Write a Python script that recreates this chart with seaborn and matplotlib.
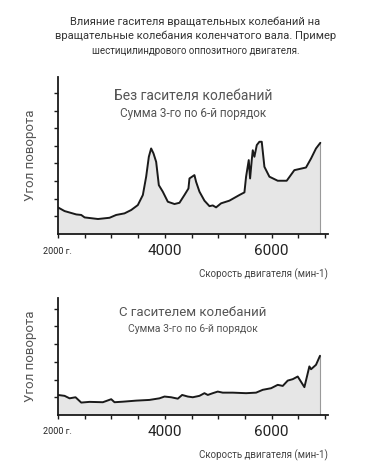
import matplotlib
matplotlib.use("Agg")
import matplotlib.pyplot as plt
import seaborn as sns
import pandas as pd

# Engine speed (rpm) and rotation angle, without damper
rpm_off = [2000, 2125, 2343, 2436, 2500, 2750, 2966, 3090, 3246, 3371, 3495, 3589,
           3651, 3701, 3744, 3788, 3838, 3888, 3962, 4056, 4181, 4274, 4367, 4442,
           4461, 4554, 4585, 4648, 4741, 4835, 4897, 4959, 5053, 5208, 5395, 5489,
           5520, 5570, 5595, 5626, 5645, 5676, 5720, 5769, 5813, 5863, 5956, 6112,
           6280, 6423, 6641, 6735, 6828, 6909]
angle_off = [1.51, 1.30, 1.11, 1.08, 0.94, 0.85, 0.92, 1.08, 1.17, 1.36, 1.64, 2.21,
             3.25, 4.38, 4.85, 4.57, 4.09, 2.77, 2.40, 1.83, 1.70, 1.77, 2.21, 2.58,
             3.15, 3.34, 2.96, 2.40, 1.89, 1.58, 1.62, 1.51, 1.74, 1.89, 2.21, 2.36,
             3.25, 4.19, 3.15, 4.19, 4.75, 4.38, 5.04, 5.23, 5.23, 3.81, 3.25, 3.02,
             3.02, 3.62, 3.77, 4.28, 4.85, 5.17]

# with damper
rpm_on = [2000, 2125, 2218, 2330, 2436, 2592, 2841, 2997, 3059, 3215, 3464, 3713,
          3900, 3994, 4118, 4243, 4324, 4430, 4523, 4648, 4741, 4804, 4897, 4990,
          5084, 5271, 5520, 5707, 5832, 5988, 6112, 6206, 6299, 6393, 6486, 6611,
          6704, 6735, 6828, 6903]
angle_on = [1.13, 1.08, 0.94, 1.00, 0.70, 0.74, 0.72, 0.89, 0.72, 0.75, 0.81, 0.85,
            0.94, 1.04, 1.00, 0.92, 1.13, 1.04, 1.00, 1.08, 1.23, 1.13, 1.23, 1.32,
            1.26, 1.26, 1.23, 1.26, 1.42, 1.51, 1.70, 1.64, 1.94, 2.02, 2.17, 1.57,
            2.74, 2.58, 2.83, 3.34]

x_ticks = [2000, 2500, 3000, 3500, 4000, 4500, 5000, 5500, 6000, 6500, 7000]
x_labels = ['2000 г.', '', '', '', '4000', '', '', '', '6000', '', '']

title = ("Влияние гасителя вращательных колебаний на\n"
         "вращательные колебания коленчатого вала. Пример")
title2 = "шестицилиндрового оппозитного двигателя."

sns.set_theme(style="ticks")
plt.rcParams['font.family'] = ['Roboto', 'DejaVu Sans']

fig = plt.figure(figsize=(3.76, 4.63), dpi=100)
fig.text(0.52, 0.964, title, ha='center', va='top', fontsize=8, color='#333333',
         linespacing=1.4)
fig.text(0.52, 0.901, title2, ha='center', va='top', fontsize=7, color='#333333')

panels = [
    (rpm_off, angle_off, [0.154, 0.4946, 0.718, 0.339], 8.9, 8,
     "Без гасителя колебаний", "Сумма 3-го по 6-й порядок", 10, 8.5),
    (rpm_on, angle_on, [0.154, 0.1037, 0.718, 0.2527], 6.6, 6,
     "С гасителем колебаний", "Сумма 3-го по 6-й порядок", 9.5, 7.5),
]

for rpm, angle, rect, ytop, nticks, t1, t2, fs1, fs2 in panels:
    ax = fig.add_axes(rect)
    df = pd.DataFrame({'rpm': rpm, 'angle': angle})
    ax.fill_between(df['rpm'], 0, df['angle'], color='#e6e6e6', lw=0)
    ax.plot([rpm[-1], rpm[-1]], [0, angle[-1]], color='#9a9a9a', lw=0.8)
    sns.lineplot(data=df, x='rpm', y='angle', ax=ax, color='#1a1a1a', lw=1.4,
                 sort=False)
    ax.set_xlim(2000, 7050)
    ax.set_ylim(0, ytop)
    ax.set_xticks(x_ticks)
    ax.set_xticklabels(x_labels)
    for lab in ax.get_xticklabels():
        if lab.get_text().startswith('2000'):
            lab.set_fontsize(6.5)
            lab.set_y(-0.02)
        else:
            lab.set_fontsize(11)
    ax.set_yticks(range(1, nticks + 1))
    ax.set_yticklabels([])
    ax.tick_params(axis='both', direction='out', length=3, width=1.0,
                   color='#1a1a1a', labelcolor='#222222', pad=4)
    for s in ['left', 'bottom']:
        ax.spines[s].set_linewidth(1.3)
        ax.spines[s].set_color('#1a1a1a')
    sns.despine(ax=ax)
    ax.set_xlabel("Скорость двигателя (мин-1)", fontsize=7, color='#444444',
                  loc='right', labelpad=8)
    ax.set_ylabel("Угол поворота", fontsize=9.5, color='#555555', labelpad=8)
    ax.text(0.5, 0.88, t1, transform=ax.transAxes, ha='center', va='center',
            fontsize=fs1, color='#555555')
    ax.text(0.5, 0.77 if ytop > 7 else 0.735, t2, transform=ax.transAxes,
            ha='center', va='center', fontsize=fs2, color='#555555')

fig.savefig("out.png", dpi=100, facecolor='white')
